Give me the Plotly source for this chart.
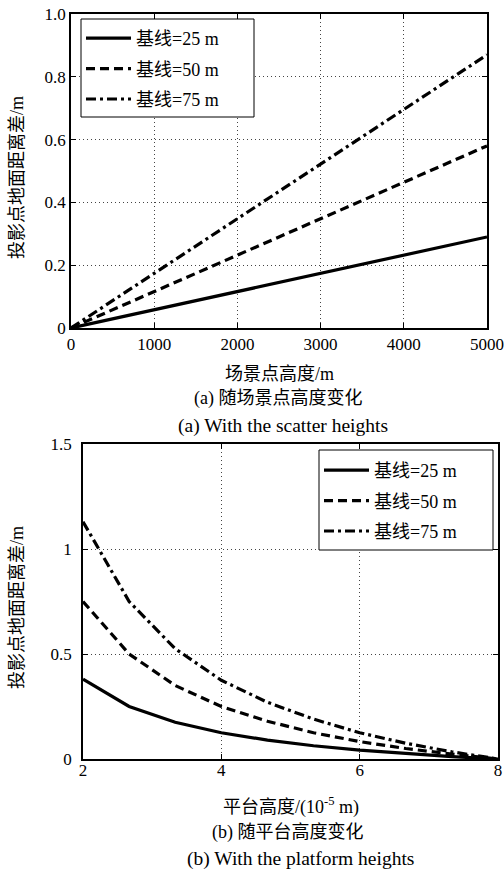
import plotly.graph_objects as go

# ---- data (a): scatter height ----
scene_h = [0, 1000, 2000, 3000, 4000, 5000]
a_b25 = [0, 0.058, 0.116, 0.174, 0.232, 0.29]
a_b50 = [0, 0.116, 0.232, 0.348, 0.464, 0.58]
a_b75 = [0, 0.174, 0.348, 0.522, 0.696, 0.87]

# ---- data (b): platform height ----
plat_h = [2, 2.667, 3.333, 4, 4.667, 5.333, 6, 6.667, 7.333, 8]
b_b25 = [0.38, 0.25, 0.175, 0.125, 0.09, 0.063, 0.042, 0.025, 0.011, 0]
b_b50 = [0.75, 0.50, 0.35, 0.25, 0.18, 0.125, 0.083, 0.05, 0.023, 0]
b_b75 = [1.13, 0.75, 0.525, 0.375, 0.27, 0.19, 0.125, 0.075, 0.034, 0]

names = ["基线=25 m", "基线=50 m", "基线=75 m"]
dashes = ["solid", "9px,5px", "10px,4px,3px,4px"]

W, H = 504, 870
SERIF = "Liberation Serif, Times New Roman, Noto Sans CJK SC, serif"

def px_x(x):
    return x / W

def px_y(y):
    return 1 - y / H

fig = go.Figure()

for i, ys in enumerate([a_b25, a_b50, a_b75]):
    fig.add_trace(go.Scatter(
        x=scene_h, y=ys, mode="lines", name=names[i],
        line=dict(color="black", width=3.2, dash=dashes[i]),
        xaxis="x", yaxis="y", legend="legend", legendgroup="a%d" % i,
    ))
for i, ys in enumerate([b_b25, b_b50, b_b75]):
    fig.add_trace(go.Scatter(
        x=plat_h, y=ys, mode="lines", name=names[i],
        line=dict(color="black", width=3.2, dash=dashes[i]),
        xaxis="x2", yaxis="y2", legend="legend2", legendgroup="b%d" % i,
    ))

axis_common = dict(
    showline=True, linecolor="black", linewidth=1.5, mirror="ticks",
    ticks="inside", ticklen=5, tickcolor="black", tickwidth=1,
    showgrid=True, gridcolor="#444", griddash="1px,3px", gridwidth=1,
    zeroline=False, automargin=False, ticklabeloverflow="allow",
    tickfont=dict(family=SERIF, size=17, color="black"),
)

legend_common = dict(
    xanchor="left", yanchor="top",
    bgcolor="rgba(0,0,0,0)", borderwidth=0,
    font=dict(family=SERIF, size=18, color="black"),
    tracegroupgap=4, itemwidth=45,
)

fig.update_layout(
    width=W, height=H,
    margin=dict(l=0, r=0, t=0, b=0),
    paper_bgcolor="white", plot_bgcolor="white",
    xaxis=dict(domain=[px_x(71), px_x(487)], anchor="y", range=[0, 5000],
               tickvals=[0, 1000, 2000, 3000, 4000, 5000], **axis_common),
    yaxis=dict(domain=[px_y(328), px_y(14)], anchor="x", range=[0, 1.0],
               tickvals=[0, 0.2, 0.4, 0.6, 0.8, 1.0],
               ticktext=["0", "0.2", "0.4", "0.6", "0.8", "1.0"], **axis_common),
    xaxis2=dict(domain=[px_x(83), px_x(498)], anchor="y2", range=[2, 8],
                tickvals=[2, 4, 6, 8], ticklabelstandoff=-5, **axis_common),
    yaxis2=dict(domain=[px_y(759), px_y(444)], anchor="x2", range=[0, 1.5],
                tickvals=[0, 0.5, 1, 1.5], ticklabelstandoff=6,
                ticktext=["0", "0.5", "1", "1.5"], **axis_common),
    legend=dict(x=px_x(81), y=px_y(20), **legend_common),
    legend2=dict(x=px_x(319), y=px_y(452), **legend_common),
    showlegend=True,
)

# legend frames
for x0, y0, x1, y1 in [(81, 19, 254, 117), (319, 450, 493, 550)]:
    fig.add_shape(type="rect", xref="paper", yref="paper",
                  x0=px_x(x0), x1=px_x(x1), y0=px_y(y1), y1=px_y(y0),
                  line=dict(color="black", width=1), fillcolor="white",
                  layer="above")

annos = [
    ("场景点高度/m", 279, 374, 18, 0),
    ("(a) 随场景点高度变化", 278, 399, 18, 0),
    ("(a) With the scatter heights", 283, 426, 19.5, 0),
    ("平台高度/(10<sup>-5</sup> m)", 291, 806, 18, 0),
    ("(b) 随平台高度变化", 288, 832, 18, 0),
    ("(b) With the platform heights", 300, 859, 19.5, 0),
    ("投影点地面距离差/m", 17, 178, 18, -90),
    ("投影点地面距离差/m", 17, 608, 18, -90),
]
for text, x, y, size, ang in annos:
    fig.add_annotation(text=text, x=px_x(x), y=px_y(y), xref="paper", yref="paper",
                       xanchor="center", yanchor="middle", showarrow=False,
                       textangle=ang,
                       font=dict(family=SERIF, size=size, color="black"))

fig.write_html("out.html",
               config={"displayModeBar": False},
               post_script="document.body.style.margin='0px';"
                           "document.body.style.overflow='hidden';")
